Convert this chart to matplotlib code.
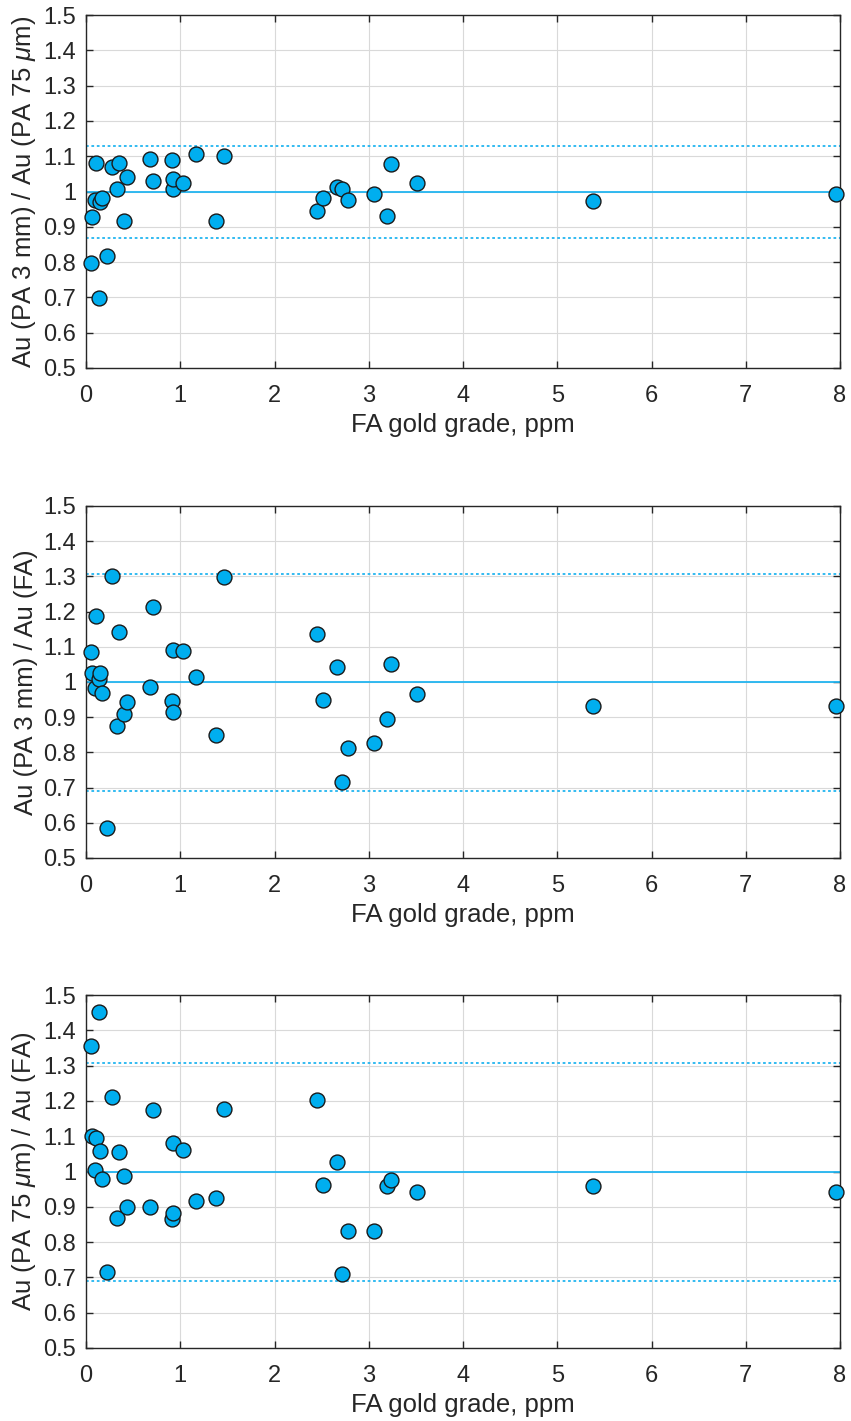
import numpy as np
import matplotlib
matplotlib.use("Agg")
import matplotlib.pyplot as plt

plt.rcParams['font.family'] = ['Liberation Sans', 'DejaVu Sans']
plt.rcParams['mathtext.fontset'] = 'custom'
plt.rcParams['mathtext.rm'] = 'Liberation Sans'
plt.rcParams['mathtext.it'] = 'Liberation Sans:italic'

# FA gold grade (ppm), shared by all three panels
fa_grade = [0.05, 0.06, 0.10, 0.11, 0.14, 0.15, 0.17, 0.22, 0.28, 0.33, 0.35,
            0.40, 0.435, 0.68, 0.714, 0.91, 0.92, 0.925, 1.026, 1.164, 1.376,
            1.468, 2.454, 2.51, 2.663, 2.716, 2.783, 3.056, 3.194, 3.24, 3.515,
            5.38, 7.96]

# Au (PA 3 mm) / Au (PA 75 um)
ratio_3mm_75um = [0.797, 0.927, 0.976, 1.082, 0.697, 0.969, 0.983, 0.817, 1.070,
                  1.006, 1.080, 0.917, 1.042, 1.092, 1.031, 1.089, 1.006, 1.035,
                  1.025, 1.106, 0.916, 1.100, 0.944, 0.982, 1.013, 1.006, 0.977,
                  0.992, 0.931, 1.078, 1.023, 0.972, 0.993]

# Au (PA 3 mm) / Au (FA)
ratio_3mm_fa = [1.086, 1.025, 0.984, 1.188, 1.008, 1.026, 0.968, 0.585, 1.301,
                0.876, 1.141, 0.908, 0.942, 0.985, 1.214, 0.947, 1.091, 0.915,
                1.089, 1.015, 0.849, 1.299, 1.136, 0.948, 1.042, 0.717, 0.813,
                0.827, 0.896, 1.052, 0.966, 0.933, 0.932]

# Au (PA 75 um) / Au (FA)
ratio_75um_fa = [1.356, 1.101, 1.004, 1.094, 1.451, 1.057, 0.980, 0.714, 1.212,
                 0.867, 1.054, 0.987, 0.900, 0.899, 1.174, 0.866, 1.082, 0.882,
                 1.061, 0.917, 0.926, 1.178, 1.203, 0.963, 1.026, 0.710, 0.832,
                 0.832, 0.959, 0.976, 0.943, 0.958, 0.942]

# dotted limits per panel (upper, lower)
limits_1 = [1.130, 0.867]
limits_2 = [1.307, 0.691]
limits_3 = [1.307, 0.691]

ylabels = [r'Au (PA 3 mm) / Au (PA 75 $\mu$m)',
           'Au (PA 3 mm) / Au (FA)',
           r'Au (PA 75 $\mu$m) / Au (FA)']
xlabel = 'FA gold grade, ppm'
yticks = [0.5, 0.6, 0.7, 0.8, 0.9, 1.0, 1.1, 1.2, 1.3, 1.4, 1.5]
ytick_labels = ['0.5', '0.6', '0.7', '0.8', '0.9', '1', '1.1', '1.2', '1.3', '1.4', '1.5']
xticks = [0, 1, 2, 3, 4, 5, 6, 7, 8]

W, H = 851, 1421
fig = plt.figure(figsize=(W / 100, H / 100), dpi=100)

rects = [(15, 368), (506, 858), (995, 1348)]
series = [ratio_3mm_75um, ratio_3mm_fa, ratio_75um_fa]
limits = [limits_1, limits_2, limits_3]

face = '#00AEEF'
line_col = '#22B5F0'
dark = '#262626'

for (top, bot), ys, lim, ylab in zip(rects, series, limits, ylabels):
    ax = fig.add_axes([86 / W, 1 - bot / H, 754 / W, (bot - top) / H])
    ax.set_xlim(0, 8)
    ax.set_ylim(0.5, 1.5)
    ax.grid(True, color='#D9D9D9', lw=0.8)
    ax.set_axisbelow(True)

    ax.axhline(1.0, color=line_col, lw=1.3, zorder=2)
    for v in lim:
        ax.axhline(v, color=line_col, lw=1.3, ls=(0, (1.5, 1.5)), zorder=2)

    ax.scatter(fa_grade, ys, s=115, facecolor=face, edgecolor='#1A1A1A',
               linewidth=1.0, zorder=5, clip_on=False)

    ax.set_xticks(xticks)
    ax.set_yticks(yticks)
    ax.set_yticklabels(ytick_labels)
    ax.tick_params(direction='in', length=5, width=1, colors=dark,
                   labelsize=17, top=True, right=True)
    ax.tick_params(axis='x', pad=12.5)
    ax.tick_params(axis='y', pad=7)
    for sp in ax.spines.values():
        sp.set_color(dark)
        sp.set_linewidth(1.0)
        sp.set_zorder(3)

    ax.set_xlabel(xlabel, fontsize=18.5, color=dark, labelpad=4)
    ax.set_ylabel(ylab, fontsize=18.5, color=dark)
    ax.yaxis.set_label_coords(-48 / 754, 0.5)

fig.savefig('out.png', dpi=100)
